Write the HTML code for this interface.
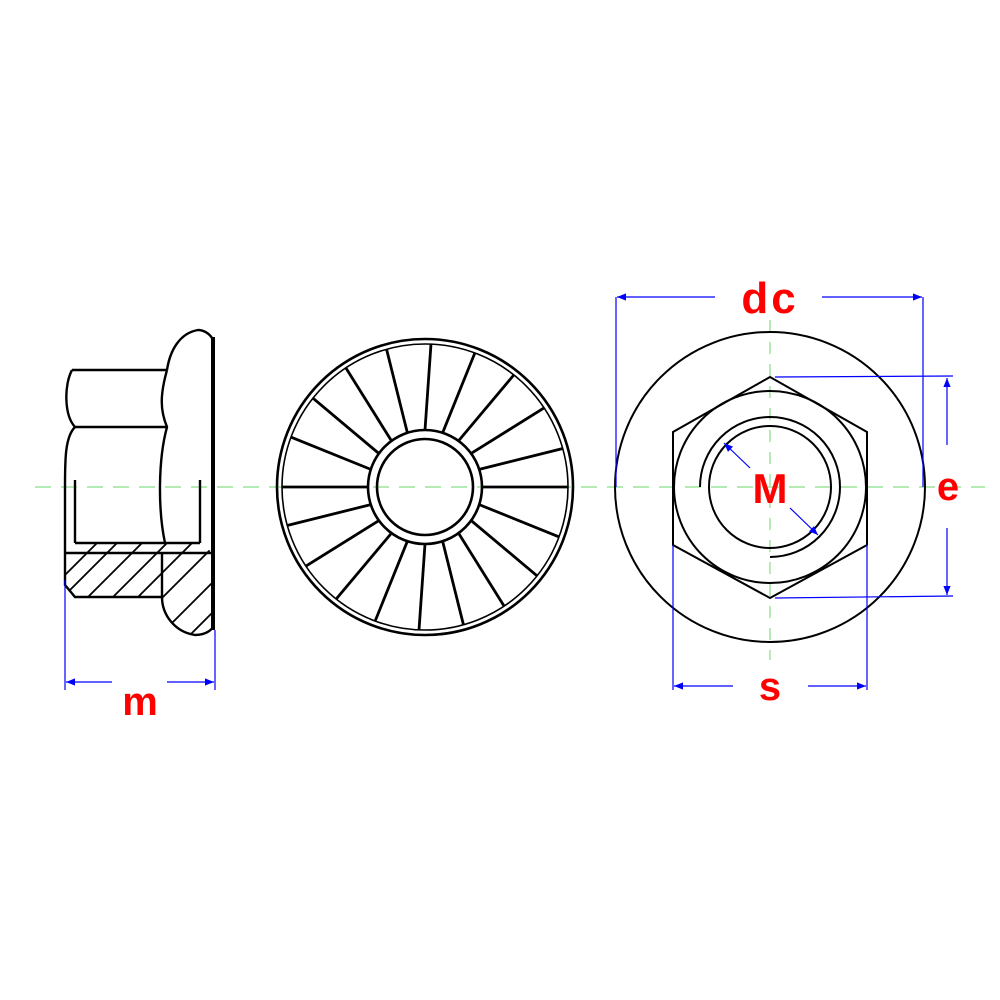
<!DOCTYPE html>
<html><head><meta charset="utf-8"><style>
html,body{margin:0;padding:0;background:#fff;}
svg{display:block;}
text{font-family:"Liberation Sans",sans-serif;font-weight:bold;fill:#f00;}
</style></head><body>
<svg width="1000" height="1000" viewBox="0 0 1000 1000" xmlns="http://www.w3.org/2000/svg">
<defs>
<marker id="ar" viewBox="0 0 10 10" refX="10" refY="5" markerWidth="14" markerHeight="9" orient="auto-start-reverse" markerUnits="userSpaceOnUse">
<path d="M0,1 L10,5 L0,9 z" fill="#00f"/></marker>
<clipPath id="hatchL"><path d="M65,553 L160,553 L162,597 L75,597 L65,585 Z M75,543 L200,543 L213,553 L213,627 L195,635 C175,632 162,615 162,597 L160,553 L65,553 Z"/></clipPath>
</defs>
<line x1="35" y1="487" x2="985" y2="487" stroke="#8d8" stroke-width="1.2" stroke-dasharray="16,10"/>
<line x1="770" y1="320" x2="770" y2="660" stroke="#8d8" stroke-width="1.2" stroke-dasharray="12,10"/>

<g fill="none" stroke="#000" stroke-width="2.4">
<g clip-path="url(#hatchL)" stroke-width="1.8">
<path d="M40,620 L120,540 M65,620 L145,540 M90,620 L170,540 M115,620 L195,540 M140,620 L220,540 M165,630 L245,550 M185,640 L265,560 M205,650 L285,570 M40,600 L100,540 M40,575 L75,540"/>
</g>
<path d="M72,370 L167,370"/>
<path d="M72,370 C64,385 64,415 75,427 C65,437 65,460 65,487 L65,585 L75,597 L162,597"/>
<path d="M75,427 L167,427"/>
<path d="M65,553 L213,553"/>
<path d="M75,543 L200,543"/>
<path d="M75,480 L75,543 M200,480 L200,543"/>
<path d="M167,370 C160,395 160,410 167,427 C158,460 158,510 165,543"/>
<path d="M167,370 C170,350 180,333 198,330 C205,330 211,335 213,340"/>
<path d="M162,597 C162,615 175,632 195,635 C203,635 210,632 213,627"/>
<path d="M162,553 L162,597"/>
<line x1="213" y1="337" x2="213" y2="630" stroke-width="4"/>
</g>
<g stroke="#00f" stroke-width="1.2" fill="none">
<line x1="65" y1="580" x2="65" y2="690"/>
<line x1="215" y1="630" x2="215" y2="690"/>
<line x1="112" y1="682" x2="66" y2="682" marker-end="url(#ar)"/>
<line x1="167" y1="682" x2="214" y2="682" marker-end="url(#ar)"/>
</g>
<text x="140" y="715" font-size="40" text-anchor="middle">m</text>

<g fill="none" stroke="#000" stroke-width="2.6" transform="translate(425,487)">
<circle r="148"/>
<circle r="143" stroke-width="1.6"/>
<circle r="48"/>
<circle r="57"/>
<g stroke-width="2.8">
<line x1="57" y1="0" x2="143" y2="0"/>
<line x1="57" y1="0" x2="143" y2="6" transform="rotate(18)"/>
<line x1="57" y1="0" x2="143" y2="6" transform="rotate(36)"/>
<line x1="57" y1="0" x2="143" y2="6" transform="rotate(54)"/>
<line x1="57" y1="0" x2="143" y2="6" transform="rotate(72)"/>
<line x1="57" y1="0" x2="143" y2="6" transform="rotate(90)"/>
<line x1="57" y1="0" x2="143" y2="6" transform="rotate(108)"/>
<line x1="57" y1="0" x2="143" y2="6" transform="rotate(126)"/>
<line x1="57" y1="0" x2="143" y2="6" transform="rotate(144)"/>
<line x1="57" y1="0" x2="143" y2="6" transform="rotate(162)"/>
<line x1="57" y1="0" x2="143" y2="0" transform="rotate(180)"/>
<line x1="57" y1="0" x2="143" y2="6" transform="rotate(198)"/>
<line x1="57" y1="0" x2="143" y2="6" transform="rotate(216)"/>
<line x1="57" y1="0" x2="143" y2="6" transform="rotate(234)"/>
<line x1="57" y1="0" x2="143" y2="6" transform="rotate(252)"/>
<line x1="57" y1="0" x2="143" y2="6" transform="rotate(270)"/>
<line x1="57" y1="0" x2="143" y2="6" transform="rotate(288)"/>
<line x1="57" y1="0" x2="143" y2="6" transform="rotate(306)"/>
<line x1="57" y1="0" x2="143" y2="6" transform="rotate(324)"/>
<line x1="57" y1="0" x2="143" y2="6" transform="rotate(342)"/>
</g>
</g>

<g fill="none" stroke="#000" stroke-width="2">
<circle cx="770" cy="487" r="155"/>
<polygon points="770,377 867,432 867,545 770,598 673,545 673,432"/>
<circle cx="770" cy="487" r="96"/>
<circle cx="770" cy="487" r="61"/>
<path d="M700,487 A70,70 0 1 1 770,557" stroke-width="2"/>
</g>
<g stroke="#00f" stroke-width="1.2" fill="none">
<line x1="616" y1="297" x2="616" y2="487"/>
<line x1="923" y1="297" x2="923" y2="487"/>
<line x1="715" y1="297" x2="617" y2="297" marker-end="url(#ar)"/>
<line x1="822" y1="297" x2="922" y2="297" marker-end="url(#ar)"/>
<line x1="775" y1="377" x2="953" y2="376"/>
<line x1="775" y1="598" x2="953" y2="596"/>
<line x1="947" y1="445" x2="947" y2="378" marker-end="url(#ar)"/>
<line x1="947" y1="528" x2="947" y2="595" marker-end="url(#ar)"/>
<line x1="673" y1="545" x2="673" y2="690"/>
<line x1="867" y1="545" x2="867" y2="690"/>
<line x1="733" y1="686" x2="674" y2="686" marker-end="url(#ar)"/>
<line x1="808" y1="686" x2="866" y2="686" marker-end="url(#ar)"/>
<line x1="750" y1="468" x2="724" y2="443" marker-end="url(#ar)"/>
<line x1="790" y1="508" x2="818" y2="535" marker-end="url(#ar)"/>
</g>
<text x="770" y="313" font-size="44" text-anchor="middle" letter-spacing="3">dc</text>
<text x="770" y="503" font-size="42" text-anchor="middle">M</text>
<text x="948" y="500" font-size="40" text-anchor="middle">e</text>
<text x="770" y="700" font-size="40" text-anchor="middle">s</text>
</svg>
</body></html>
